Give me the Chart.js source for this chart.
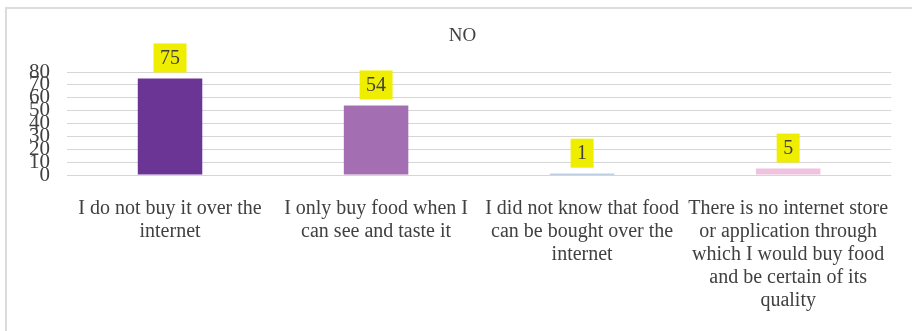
<!DOCTYPE html>
<html>
<head>
<meta charset="utf-8">
<script src="https://cdn.jsdelivr.net/npm/chart.js@4/dist/chart.umd.min.js"></script>
<style>
  html, body { margin: 0; padding: 0; background: #ffffff; overflow: hidden; }
  #wrap { position: relative; width: 912px; height: 331px; }
  #frame {
    position: absolute; left: 5px; top: 7px; width: 940px; height: 360px;
    border-left: 2px solid #dcdcdc; border-top: 2px solid #dcdcdc; box-sizing: border-box;
  }
  canvas { position: absolute; left: 0; top: 0; }
</style>
</head>
<body>
<div id="wrap">
  <div id="frame"></div>
  <canvas id="chart" width="912" height="331"></canvas>
</div>
<script>
// Reasons given by respondents who answered "NO"
const categories = [
  ["I do not buy it over the", "internet"],
  ["I only buy food when I", "can see and taste it"],
  ["I did not know that food", "can be bought over the", "internet"],
  ["There is no internet store", "or application through", "which I would buy food", "and be certain of its", "quality"]
];
const counts = [75, 54, 1, 5];
const barColors = ["#6b3596", "#a36fb2", "#7f9fcd", "#efc3df"];
const yTicks = [0, 10, 20, 30, 40, 50, 60, 70, 80];
const chartTitle = "NO";

const serif = '"Liberation Serif", "Times New Roman", serif';
const textColor = "#404040";

// Yellow value boxes above each bar
const valueBoxes = {
  id: "valueBoxes",
  afterDatasetsDraw(chart) {
    const ctx = chart.ctx;
    const meta = chart.getDatasetMeta(0);
    const values = chart.data.datasets[0].data;
    ctx.save();
    ctx.font = "20px " + serif;
    ctx.textAlign = "center";
    ctx.textBaseline = "middle";
    meta.data.forEach((bar, i) => {
      const txt = String(values[i]);
      const w = ctx.measureText(txt).width + 13;
      const h = 29;
      const bottom = bar.y - 6;
      ctx.fillStyle = "#f0ee00";
      ctx.fillRect(bar.x - w / 2, bottom - h, w, h);
      ctx.fillStyle = textColor;
      ctx.fillText(txt, bar.x, bottom - h / 2 + 1);
    });
    ctx.restore();
  }
};

new Chart(document.getElementById("chart"), {
  type: "bar",
  data: {
    labels: categories,
    datasets: [{
      data: counts,
      backgroundColor: barColors,
      borderWidth: 0,
      categoryPercentage: 1,
      barPercentage: 0.313
    }]
  },
  options: {
    responsive: false,
    animation: false,
    layout: { padding: { top: 10, left: 28, right: 15, bottom: 0 } },
    plugins: {
      legend: { display: false },
      tooltip: { enabled: false },
      title: {
        display: true,
        text: chartTitle,
        color: textColor,
        font: { family: serif, size: 19, weight: "normal", lineHeight: 1.2 },
        padding: { top: 14.6, bottom: 24.6 }
      }
    },
    scales: {
      x: {
        grid: { display: false, drawTicks: false },
        border: { display: false },
        ticks: {
          color: textColor,
          font: { family: serif, size: 20, lineHeight: 1.15 },
          padding: 22,
          maxRotation: 0,
          minRotation: 0,
          autoSkip: false
        },
        afterFit(scale) { scale.height = 156; }
      },
      y: {
        min: yTicks[0],
        max: yTicks[yTicks.length - 1],
        grid: { color: "#d6d6d6", lineWidth: 1, drawTicks: false },
        border: { display: false },
        afterBuildTicks(scale) { scale.ticks = yTicks.map(v => ({ value: v })); },
        ticks: {
          color: textColor,
          font: { family: serif, size: 21 },
          padding: 17,
          autoSkip: false
        },
        afterFit(scale) { scale.width = 39; }
      }
    }
  },
  plugins: [valueBoxes]
});
</script>
</body>
</html>
